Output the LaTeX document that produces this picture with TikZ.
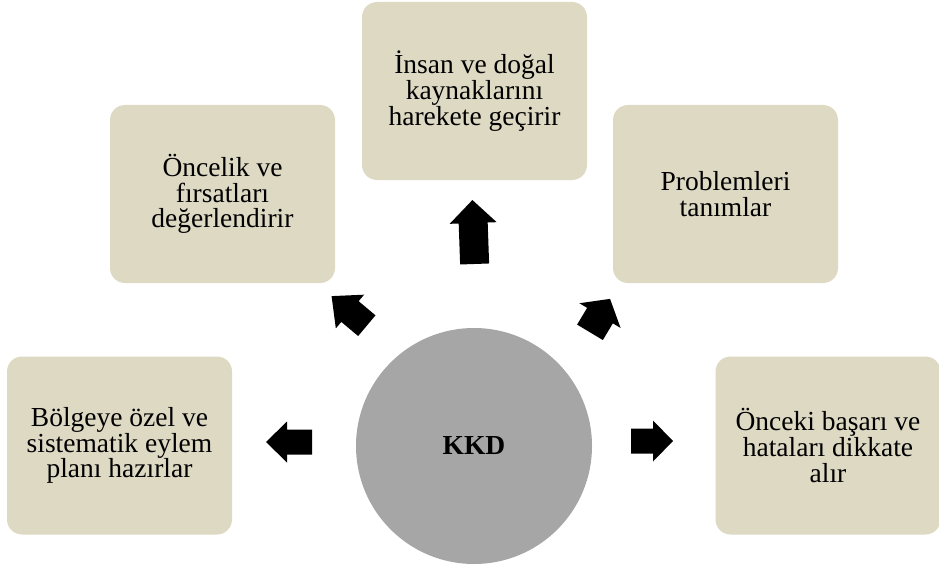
\documentclass[tikz,border=0pt]{standalone}
\usepackage{fontspec}
\setmainfont{Liberation Serif}
\definecolor{boxfill}{HTML}{DDD9C3}
\definecolor{circfill}{HTML}{A6A6A6}
\newcommand\blkarr[8]{%
  \path[arrowfill,shift={(#2,#3)},rotate=#4]
    (-#5/2,-#6/2) -- (#5/2-#8,-#6/2) -- (#5/2-#8,-#7/2) -- (#5/2,0)
    -- (#5/2-#8,#7/2) -- (#5/2-#8,#6/2) -- (-#5/2,#6/2) -- cycle
    coordinate (#1) at (0,0);}
\begin{document}
\begin{tikzpicture}[x=1pt,y=-1pt,
  box/.style={rectangle,rounded corners=15pt,fill=boxfill,draw=none,
    minimum width=225pt,minimum height=178pt,inner sep=2pt,align=center,
    font=\fontsize{27.5}{25.7}\selectfont},
  hub/.style={circle,fill=circfill,draw=none,minimum size=236pt,inner sep=0pt,
    font=\fontsize{27.5}{28}\selectfont\bfseries},
  arrowfill/.style={fill=black,draw=none}]
\useasboundingbox (0,0) rectangle (939,567);
\node[box] (lb) at (119.5,445.5) {Bölgeye özel ve\\sistematik eylem\\planı hazırlar};
\node[box] (lt) at (222.5,194) {Öncelik ve\\fırsatları\\değerlendirir};
\node[box] (tp) at (474.5,91) {İnsan ve doğal\\kaynaklarını\\harekete geçirir};
\node[box] (rt) at (725.5,194) {Problemleri\\tanımlar};
\node[box] (rb) at (828,445.5) {Önceki başarı ve\\hataları dikkate\\alır};
\node[hub] (kkd) at (474,446) {KKD};
% block arrows: name, cx, cy, angle, length, shaft width, head width, head length
\blkarr{a1}{289}{442}{180}{46}{25}{41}{21}
\blkarr{a2}{349.2}{310.9}{140}{46}{27}{44}{24}
\blkarr{a3}{473.5}{232}{92}{64}{29}{47}{23}
\blkarr{a4}{600}{315.6}{59}{39}{30}{48}{19.5}
\blkarr{a5}{652}{441}{0}{42}{25}{41}{20}
\end{tikzpicture}
\end{document}
